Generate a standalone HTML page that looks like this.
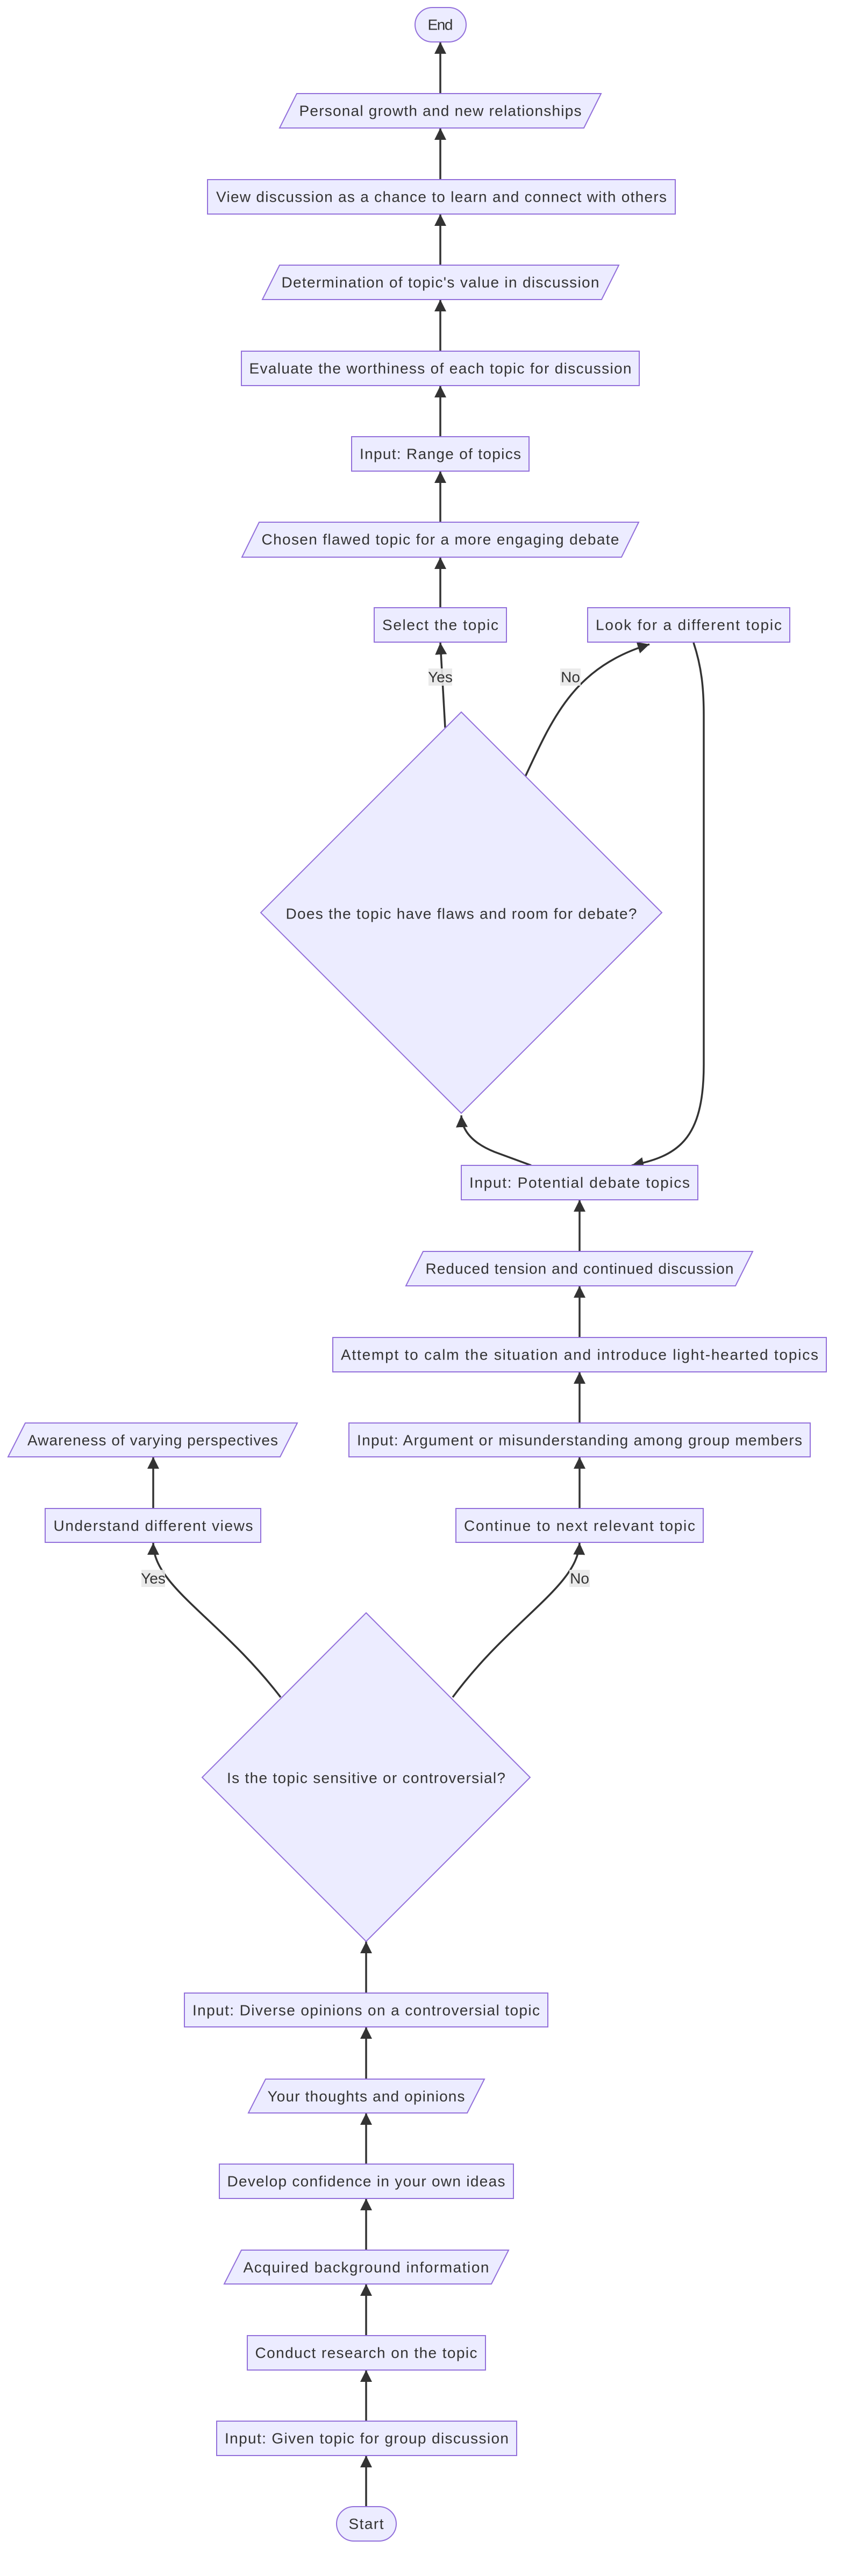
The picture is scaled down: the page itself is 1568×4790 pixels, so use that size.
<!DOCTYPE html>
<html><head><meta charset="utf-8"><style>
html,body{margin:0;padding:0;background:#fff}
svg{display:block}
text{font-family:"Liberation Sans",sans-serif;font-size:28px;fill:#333;text-anchor:middle;dominant-baseline:central}
.n{fill:#ECECFF;stroke:#9370DB;stroke-width:2}
.e{fill:none;stroke:#333;stroke-width:3.5}
.lb{fill:#e8e8e8;opacity:.9}
</style></head><body>
<svg width="1568" height="4790" viewBox="0 0 1568 4790" xmlns="http://www.w3.org/2000/svg">
<defs><marker id="a" viewBox="0 0 10 10" refX="10" refY="5" markerUnits="userSpaceOnUse" markerWidth="22" markerHeight="22" orient="auto"><path d="M0,0L10,5L0,10z" fill="#333"/></marker></defs>

<g class="e" marker-end="url(#a)">
<path d="M819,174V78"/><path d="M819,334V238"/><path d="M819,493V398"/><path d="M819,653V557"/><path d="M819,812V717"/><path d="M819,971V876"/><path d="M819,1130V1036"/>
<path d="M828,1353L819,1195"/>
<path d="M977,1444C1030,1330 1070,1240 1208,1198"/>
<path d="M1290,1195C1305,1240 1309,1280 1309,1330L1309,1980C1309,2120 1260,2150 1175,2167"/>
<path d="M988,2167L920,2142Q860,2118 858,2074"/>
<path d="M1078,2327V2231"/><path d="M1078,2487V2391"/><path d="M1078,2646V2551"/><path d="M1078,2805V2709"/>
<path d="M842,3156C950,3010 1075,2950 1078,2869"/>
<path d="M522,3156C410,3010 285,2950 285,2869"/>
<path d="M285,2805V2709"/>
<path d="M681,3706V3610"/><path d="M681,3866V3769"/><path d="M681,4024V3929"/><path d="M681,4184V4088"/><path d="M681,4343V4247"/><path d="M681,4502V4407"/><path d="M681,4661V4566"/>
</g>

<rect class="lb" x="797" y="1243" width="44" height="32"/><text x="819" y="1259">Yes</text>
<rect class="lb" x="1042" y="1243" width="38" height="32"/><text x="1061" y="1259">No</text>
<rect class="lb" x="263" y="2919" width="44" height="32"/><text x="285" y="2935">Yes</text>
<rect class="lb" x="1059" y="2919" width="38" height="32"/><text x="1078" y="2935">No</text>

<rect class="n" x="772" y="14" width="95" height="64" rx="32"/><text x="819" y="46" textLength="47">End</text>
<polygon class="n" points="552,174 1118,174 1086,238 520,238"/><text x="819" y="206" textLength="525">Personal growth and new relationships</text>
<rect class="n" x="386" y="334" width="870" height="64"/><text x="821" y="366" textLength="838">View discussion as a chance to learn and connect with others</text>
<polygon class="n" points="520,493 1151,493 1119,557 488,557"/><text x="819" y="525" textLength="591">Determination of topic's value in discussion</text>
<rect class="n" x="449" y="653" width="740" height="64"/><text x="819" y="685" textLength="711">Evaluate the worthiness of each topic for discussion</text>
<rect class="n" x="654" y="812" width="330" height="64"/><text x="819" y="844" textLength="300">Input: Range of topics</text>
<polygon class="n" points="482,971 1188,971 1156,1036 450,1036"/><text x="819" y="1003" textLength="665">Chosen flawed topic for a more engaging debate</text>
<rect class="n" x="696" y="1130" width="246" height="64"/><text x="819" y="1162" textLength="216">Select the topic</text>
<rect class="n" x="1093" y="1130" width="376" height="64"/><text x="1281" y="1162" textLength="346">Look for a different topic</text>

<polygon class="n" points="858,1324 1231,1697 858,2070 485,1697"/><text x="858" y="1699" textLength="653">Does the topic have flaws and room for debate?</text>

<rect class="n" x="858" y="2167" width="440" height="64"/><text x="1078" y="2199" textLength="410">Input: Potential debate topics</text>
<polygon class="n" points="787,2327 1400,2327 1368,2391 755,2391"/><text x="1078" y="2359" textLength="573">Reduced tension and continued discussion</text>
<rect class="n" x="619" y="2487" width="918" height="64"/><text x="1078" y="2519" textLength="888">Attempt to calm the situation and introduce light-hearted topics</text>
<rect class="n" x="649" y="2646" width="858" height="63"/><text x="1078" y="2678" textLength="828">Input: Argument or misunderstanding among group members</text>
<rect class="n" x="848" y="2805" width="460" height="63"/><text x="1078" y="2837" textLength="430">Continue to next relevant topic</text>
<polygon class="n" points="47,2646 553,2646 521,2709 15,2709"/><text x="284" y="2678" textLength="466">Awareness of varying perspectives</text>
<rect class="n" x="84" y="2805" width="401" height="63"/><text x="285" y="2837" textLength="371">Understand different views</text>

<polygon class="n" points="681,2999 986,3305 681,3610 376,3305"/><text x="681" y="3306" textLength="518">Is the topic sensitive or controversial?</text>

<rect class="n" x="343" y="3706" width="676" height="63"/><text x="681" y="3738" textLength="646">Input: Diverse opinions on a controversial topic</text>
<polygon class="n" points="494,3866 901,3866 869,3929 462,3929"/><text x="681" y="3898" textLength="367">Your thoughts and opinions</text>
<rect class="n" x="408" y="4024" width="547" height="64"/><text x="681" y="4056" textLength="517">Develop confidence in your own ideas</text>
<polygon class="n" points="449,4184 946,4184 914,4247 417,4247"/><text x="681" y="4216" textLength="457">Acquired background information</text>
<rect class="n" x="460" y="4343" width="443" height="64"/><text x="681" y="4375" textLength="413">Conduct research on the topic</text>
<rect class="n" x="403" y="4502" width="558" height="64"/><text x="682" y="4534" textLength="528">Input: Given topic for group discussion</text>
<rect class="n" x="626" y="4661" width="111" height="64" rx="32"/><text x="681" y="4693" textLength="65">Start</text>
</svg>
</body></html>
